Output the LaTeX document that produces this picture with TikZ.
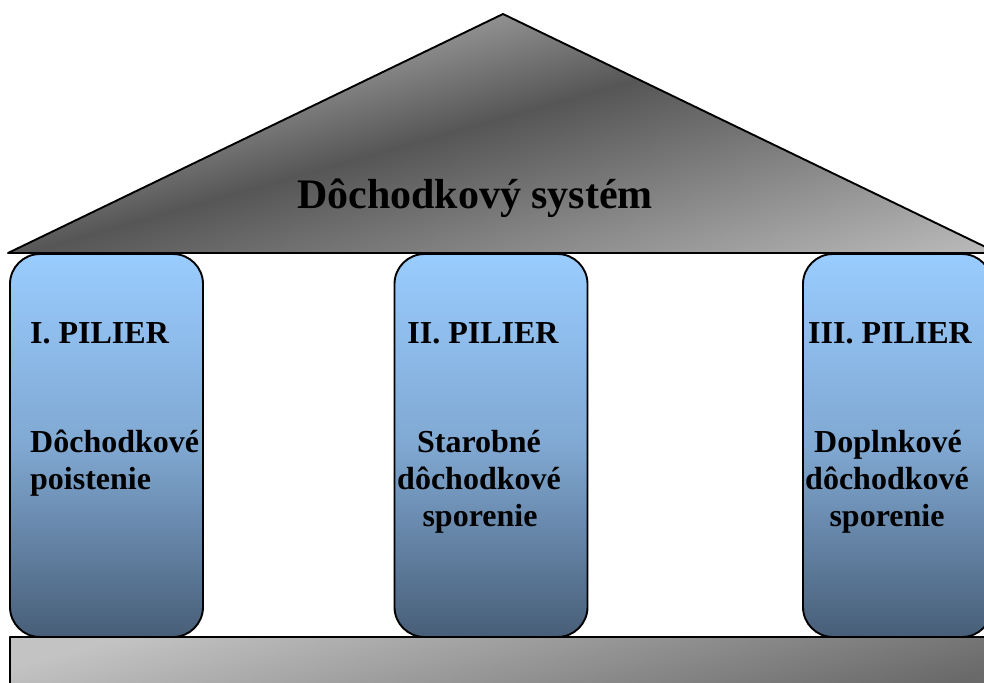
\documentclass[tikz,border=0pt]{standalone}
\usepackage{fontspec}
\setmainfont{Liberation Serif}
\definecolor{pilltop}{RGB}{153,204,255}
\definecolor{pillmid}{RGB}{128,168,210}
\definecolor{pillbot}{RGB}{72,94,120}
\definecolor{roofA}{RGB}{205,205,205}
\definecolor{roofB}{RGB}{86,86,86}
\definecolor{roofC}{RGB}{175,175,175}
\definecolor{baselight}{RGB}{195,195,195}
\definecolor{basedark}{RGB}{105,105,105}
\pgfdeclareverticalshading{roofshade}{1000bp}{color(0bp)=(roofA); color(309bp)=(roofB); color(460bp)=(roofC)}
\tikzset{
  outline/.style={draw=black, line width=1.9pt, line join=round},
  pillar/.style={outline, rounded corners=30pt, top color=pilltop, bottom color=pillbot, middle color=pillmid, minimum height=383pt, inner sep=0pt},
  lbl/.style={font=\fontsize{32}{37}\selectfont\bfseries, inner sep=0pt, anchor=base},
}
\begin{document}
\begin{tikzpicture}[x=1pt,y=-1pt]
\useasboundingbox (0,0) rectangle (984,682);
\clip (0,0) rectangle (984,682);
% roof
\begin{scope}
  \clip (8,253) -- (503,14) -- (998,253) -- cycle;
  \node[inner sep=0pt, rotate=15.8] (roofgrad) at (489,204) {\pgfuseshading{roofshade}};
\end{scope}
\draw[outline] (8,253) -- (503,14) -- (998,253) -- cycle;
\node[lbl, font=\fontsize{42}{48}\selectfont\bfseries] (title) at (475,208) {Dôchodkový systém};
% base
\path[outline, top color=baselight, bottom color=basedark, shading angle=15]
  (10,637) rectangle (1000,700);
% pillars
\node[pillar, minimum width=193pt] (p1) at (106.5,445.5) {};
\node[pillar, minimum width=193pt] (p2) at (491,445.5) {};
\node[pillar, minimum width=189pt] (p3) at (897.5,445.5) {};
% labels
\node[lbl, anchor=base west] (l1) at (30,343) {I. PILIER};
\node[lbl] (l2) at (483,343) {II. PILIER};
\node[lbl] (l3) at (890,343) {III. PILIER};
\node[lbl, anchor=base west] (t1a) at (30,452) {Dôchodkové};
\node[lbl, anchor=base west] (t1b) at (30,489) {poistenie};
\node[lbl] (t2a) at (479,452) {Starobné};
\node[lbl] (t2b) at (479,489) {dôchodkové};
\node[lbl] (t2c) at (480,526) {sporenie};
\node[lbl] (t3a) at (888,452) {Doplnkové};
\node[lbl] (t3b) at (887,489) {dôchodkové};
\node[lbl] (t3c) at (887,526) {sporenie};
\end{tikzpicture}
\end{document}
